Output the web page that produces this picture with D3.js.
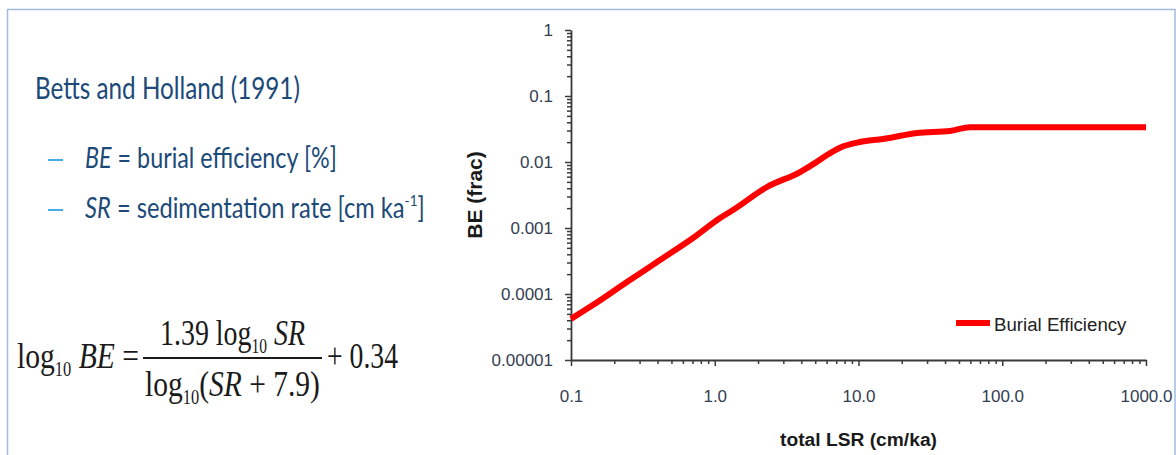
<!DOCTYPE html>
<html>
<head>
<meta charset="utf-8">
<script src="https://cdn.jsdelivr.net/npm/d3@7"></script>
<style>
  html, body { margin: 0; padding: 0; background: #fff; }
  svg { display: block; }
</style>
</head>
<body>
<div id="chart"></div>
<script>
// valores (curva vermelha)
const lsr = [0.1, 0.142, 0.245, 0.416, 0.706, 1.09, 1.34, 2.31, 3.92, 5.0, 6.04, 7.43, 10.2, 14.8, 25.5, 43.3, 59.7, 100, 1000];
const be = [4.2e-5, 6.8e-5, 1.52e-4, 3.27e-4, 7.05e-4, 1.42e-3, 1.87e-3, 4.18e-3, 7.05e-3, 9.7e-3, 0.0128, 0.0165, 0.0201, 0.0223, 0.0275, 0.0295, 0.0337, 0.0337, 0.0337];
const xTicks = [0.1, 1, 10, 100, 1000];
const xTickLabels = ["0.1", "1.0", "10.0", "100.0", "1000.0"];
const yTicks = [1e-5, 1e-4, 1e-3, 1e-2, 1e-1, 1];
const yTickLabels = ["0.00001", "0.0001", "0.001", "0.01", "0.1", "1"];
const serieNome = "Burial Efficiency";

const W = 1176, H = 455;
const svg = d3.select("#chart").append("svg").attr("width", W).attr("height", H);

// moldura azul clara do slide
svg.append("path")
    .attr("d", `M 7.5,${H + 2} L 7.5,9.5 L 1175,9.5 L 1175,${H + 2}`)
    .attr("fill", "none").attr("stroke", "#a3badf").attr("stroke-width", 1.5);

// ajusta a largura de um texto por escala horizontal
function encaixar(sel, x, y, largura) {
    const bb = sel.node().getBBox();
    sel.attr("transform", `translate(${x - bb.x * largura / bb.width},${y}) scale(${largura / bb.width},1)`);
}

// ---- texto da esquerda ----
const azul = "#1c4a78";
const titulo = svg.append("text").attr("font-family", "Lato").attr("font-size", 31).attr("fill", azul)
    .text("Betts and Holland (1991)");
encaixar(titulo, 35, 99, 265);

[[" = burial efficiency [%]", "BE", 168, 252, false], [" = sedimentation rate [cm ka", "SR", 218, 340, true]].forEach(([resto, simb, yb, larg, sup]) => {
    svg.append("line").attr("x1", 48).attr("x2", 63).attr("y1", yb - 8).attr("y2", yb - 8)
        .attr("stroke", "#45ade6").attr("stroke-width", 2);
    const t = svg.append("text").attr("font-family", "Lato").attr("font-size", 28).attr("fill", azul);
    t.append("tspan").attr("font-style", "italic").text(simb);
    t.append("tspan").text(resto);
    if (sup) {
        t.append("tspan").attr("font-size", 16).attr("dy", -12).text("-1");
        t.append("tspan").attr("dy", 12).text("]");
    }
    encaixar(t, 85, yb, larg);
});

// ---- fórmula ----
const serif = "Liberation Serif";
function formula(partes, x, y, largura) {
    const t = svg.append("text").attr("font-family", serif).attr("font-size", 36).attr("fill", "#1a1a1a");
    let base = 0;
    partes.forEach(p => {
        const ts = t.append("tspan").text(p.s);
        if (p.it) ts.attr("font-style", "italic");
        const alvo = p.sub ? 8 : 0;
        if (alvo !== base) { ts.attr("dy", alvo - base); base = alvo; }
        if (p.sub) ts.attr("font-size", 20);
    });
    encaixar(t, x, y, largura);
}
formula([{ s: "log" }, { s: "10", sub: true }, { s: " BE", it: true }, { s: " =" }], 17, 368, 122);
formula([{ s: "1.39 log" }, { s: "10", sub: true }, { s: " SR", it: true }], 160, 345, 145);
formula([{ s: "log" }, { s: "10", sub: true }, { s: "(" }, { s: "SR", it: true }, { s: " + 7.9)" }], 145, 396, 175);
formula([{ s: "+ 0.34" }], 327, 368, 71);
svg.append("line").attr("x1", 143).attr("x2", 322).attr("y1", 358).attr("y2", 358)
    .attr("stroke", "#1a1a1a").attr("stroke-width", 2);

// ---- gráfico ----
const x = d3.scaleLog().domain([0.1, 1000]).range([571, 1146]);
const y = d3.scaleLog().domain([1e-5, 1]).range([360, 30]);
const corEixo = "#3a3a3a", corRotulo = "#343d52";

const menoresX = [], menoresY = [];
[0.1, 1, 10, 100].forEach(d => { for (let k = 2; k <= 9; k++) menoresX.push(d * k); });
[1e-5, 1e-4, 1e-3, 1e-2, 1e-1].forEach(d => { for (let k = 2; k <= 9; k++) menoresY.push(d * k); });

function estilo(g) {
    g.select(".domain").attr("stroke", corEixo).attr("stroke-width", 1.8);
    g.selectAll(".tick line").attr("stroke", corEixo).attr("stroke-width", 1.5);
}

svg.append("g").attr("transform", "translate(0,360)")
    .call(d3.axisBottom(x).tickValues(menoresX).tickSize(4).tickFormat(""))
    .call(g => { g.select(".domain").remove(); estilo(g); });
svg.append("g").attr("transform", "translate(571,0)")
    .call(d3.axisLeft(y).tickValues(menoresY).tickSize(4).tickFormat(""))
    .call(g => { g.select(".domain").remove(); estilo(g); });

svg.append("g").attr("transform", "translate(0,360)")
    .call(d3.axisBottom(x).tickValues(xTicks).tickSize(6).tickSizeOuter(0).tickPadding(24)
        .tickFormat((d, i) => xTickLabels[i]))
    .call(estilo)
    .call(g => g.selectAll("text").attr("font-family", "Liberation Sans").attr("font-size", 17).attr("fill", corRotulo));

svg.append("g").attr("transform", "translate(571,0)")
    .call(d3.axisLeft(y).tickValues(yTicks).tickSize(6).tickSizeOuter(0).tickPadding(12)
        .tickFormat((d, i) => yTickLabels[i]))
    .call(estilo)
    .call(g => g.selectAll("text").attr("font-family", "Liberation Sans").attr("font-size", 17).attr("fill", corRotulo));

// títulos dos eixos
const tx = svg.append("text").attr("font-family", "Liberation Sans").attr("font-weight", "bold")
    .attr("font-size", 19).attr("fill", "#1a1a1a").text("total LSR (cm/ka)");
encaixar(tx, 780, 446, 157);

svg.append("text").attr("transform", "translate(482,195) rotate(-90)").attr("text-anchor", "middle")
    .attr("font-family", "Liberation Sans").attr("font-weight", "bold").attr("font-size", 21)
    .attr("fill", "#1a1a1a").text("BE (frac)");

// curva
const pontos = lsr.map((v, i) => [v, be[i]]);
svg.append("path").datum(pontos)
    .attr("d", d3.line().x(d => x(d[0])).y(d => y(d[1])).curve(d3.curveMonotoneX))
    .attr("fill", "none").attr("stroke", "#ff0000").attr("stroke-width", 6)
    .attr("stroke-linejoin", "round");

// legenda
svg.append("line").attr("x1", 956).attr("x2", 990).attr("y1", 323).attr("y2", 323)
    .attr("stroke", "#ff0000").attr("stroke-width", 6);
const leg = svg.append("text").attr("font-family", "Liberation Sans").attr("font-size", 19)
    .attr("fill", "#222").text(serieNome);
encaixar(leg, 994, 331, 133);
</script>
</body>
</html>
